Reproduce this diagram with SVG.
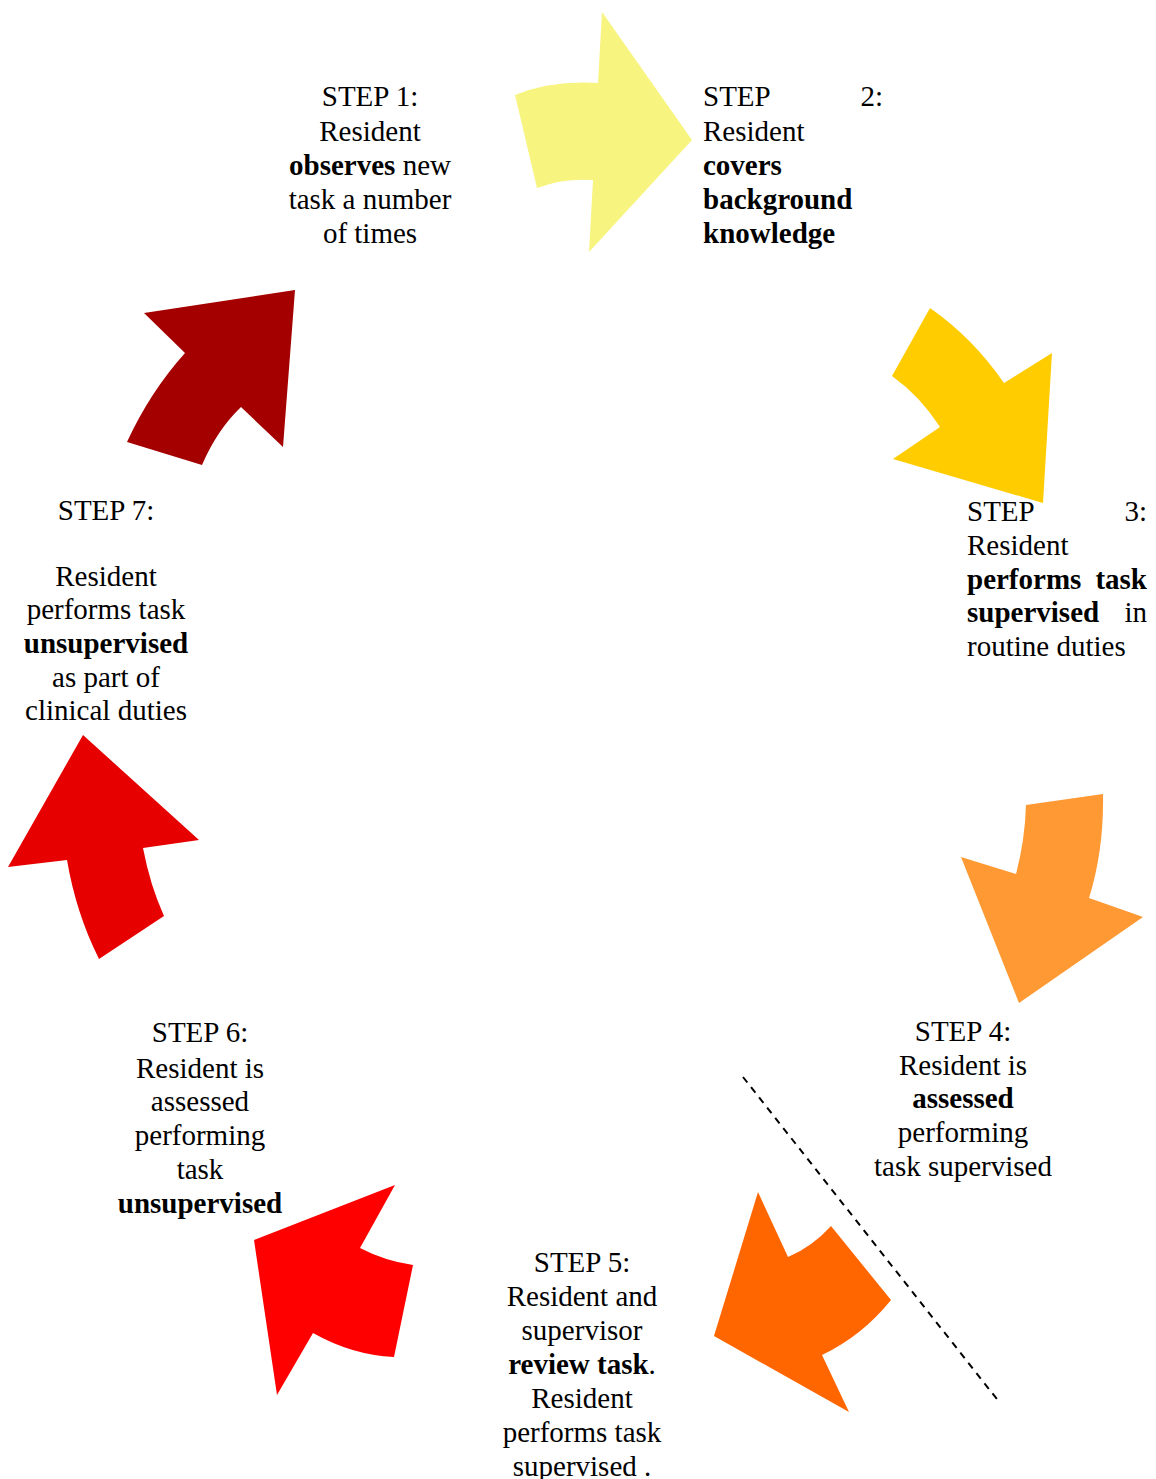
<svg xmlns="http://www.w3.org/2000/svg" width="1156" height="1479" viewBox="0 0 1156 1479">
<style>
text{font-family:"Liberation Serif","Times New Roman",serif;font-size:29px;fill:#000}
.c{text-anchor:middle}
.e{text-anchor:end}
.b{font-weight:bold}
</style>
<rect width="1156" height="1479" fill="#fff"/>
<g id="connectors">
<line x1="743" y1="1077" x2="1000" y2="1403" stroke="#000" stroke-width="2" stroke-dasharray="7,6"/>
</g>
<g id="arrows">
<path id="a12" fill="#F7F47F" d="M515,95 Q552,80 598,83 L602,12 L692,140 L589,252 L593,180 Q563,178 537,188 Z"/>
<path id="a23" fill="#FFCC00" d="M930,308 Q973,338 1004,383 L1052,353 L1043,503 L893,459 L940,427 Q920,396 892,376 Z"/>
<path id="a34" fill="#FF9933" d="M1026,805 L1103,794 Q1104,850 1089,898 L1143,917 L1019,1003 L961,857 L1016,874 Q1025,840 1026,805 Z"/>
<path id="a45" fill="#FF6600" d="M758,1192 L788,1257 Q812,1247 831,1226 L891,1300 Q862,1336 822,1355 L849,1412 L714,1336 Z"/>
<path id="a56" fill="#FF0000" d="M395,1185 L360,1248 Q385,1261 413,1265 L394,1357 Q352,1355 313,1333 L277,1395 L254,1240 Z"/>
<path id="a67" fill="#E60000" d="M83,735 L199,840 L143,848 Q150,885 164,916 L99,959 Q76,913 67,860 L8,867 Z"/>
<path id="a71" fill="#A50000" d="M144,313 L295,290 L283,447 L241,407 Q217,430 202,465 L127,442 Q150,392 185,353 Z"/>
</g>
<g id="step1">
<text class="c" x="370" y="106">STEP 1:</text>
<text class="c" x="370" y="141">Resident</text>
<text class="c" x="370" y="175"><tspan class="b">observes</tspan> new</text>
<text class="c" x="370" y="209">task a number</text>
<text class="c" x="370" y="243">of times</text>
</g>
<g id="step2">
<text x="703" y="106">STEP</text>
<text class="e" x="883" y="106">2:</text>
<text x="703" y="141">Resident</text>
<text class="b" x="703" y="175">covers</text>
<text class="b" x="703" y="209">background</text>
<text class="b" x="703" y="243">knowledge</text>
</g>
<g id="step3">
<text x="967" y="521">STEP</text>
<text class="e" x="1147" y="521">3:</text>
<text x="967" y="555">Resident</text>
<text class="b" x="967" y="589">performs</text>
<text class="b e" x="1147" y="589">task</text>
<text class="b" x="967" y="622">supervised</text>
<text class="e" x="1147" y="622">in</text>
<text x="967" y="656">routine duties</text>
</g>
<g id="step4">
<text class="c" x="963" y="1041">STEP 4:</text>
<text class="c" x="963" y="1075">Resident is</text>
<text class="c b" x="963" y="1108">assessed</text>
<text class="c" x="963" y="1142">performing</text>
<text class="c" x="963" y="1176">task supervised</text>
</g>
<g id="step5">
<text class="c" x="582" y="1272">STEP 5:</text>
<text class="c" x="582" y="1306">Resident and</text>
<text class="c" x="582" y="1340">supervisor</text>
<text class="c" x="582" y="1374"><tspan class="b">review task</tspan>.</text>
<text class="c" x="582" y="1408">Resident</text>
<text class="c" x="582" y="1442">performs task</text>
<text class="c" x="582" y="1476">supervised .</text>
</g>
<g id="step6">
<text class="c" x="200" y="1042">STEP 6:</text>
<text class="c" x="200" y="1078">Resident is</text>
<text class="c" x="200" y="1111">assessed</text>
<text class="c" x="200" y="1145">performing</text>
<text class="c" x="200" y="1179">task</text>
<text class="c b" x="200" y="1213">unsupervised</text>
</g>
<g id="step7">
<text class="c" x="106" y="520">STEP 7:</text>
<text class="c" x="106" y="586">Resident</text>
<text class="c" x="106" y="619">performs task</text>
<text class="c b" x="106" y="653">unsupervised</text>
<text class="c" x="106" y="687">as part of</text>
<text class="c" x="106" y="720">clinical duties</text>
</g>
</svg>
